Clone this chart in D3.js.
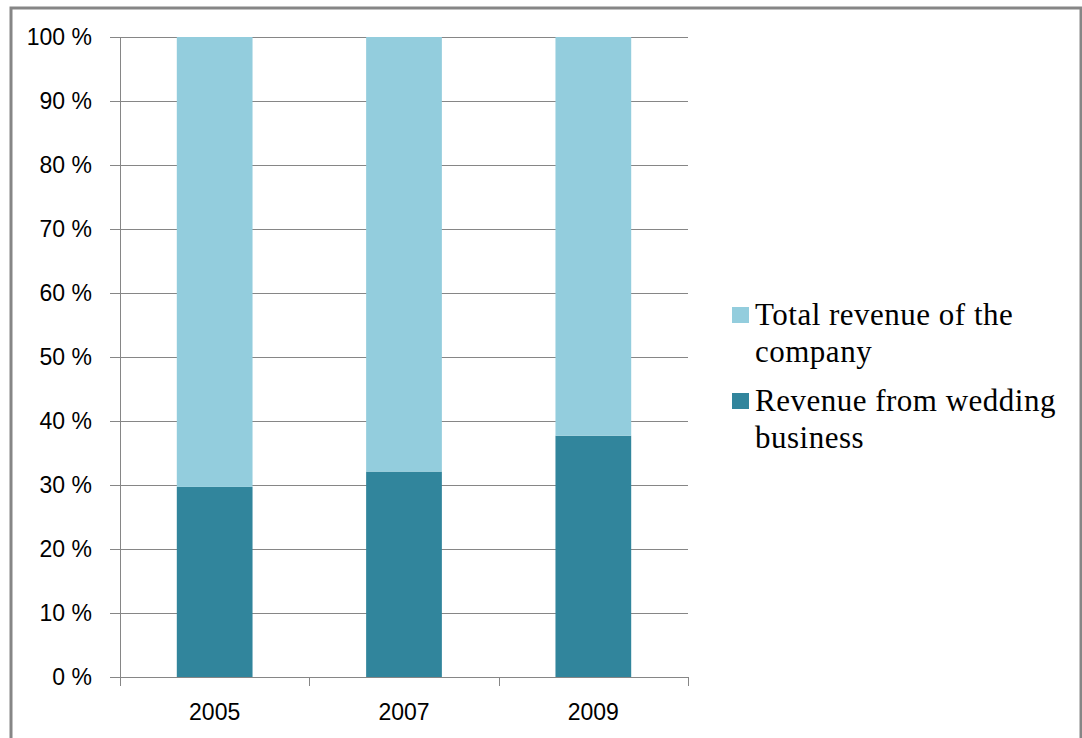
<!DOCTYPE html>
<html>
<head>
<meta charset="utf-8">
<script src="https://cdn.jsdelivr.net/npm/d3@7"></script>
<style>
  body { margin: 0; background: #fff; }
  #chart-container { width: 1082px; height: 738px; }
</style>
</head>
<body>
<div id="chart-container"></div>
<script>
const chartContainer = document.getElementById("chart-container");

const years = ["2005", "2007", "2009"];
const weddingShare = [0.297, 0.321, 0.377];
const otherShare = [0.703, 0.679, 0.623];
const seriesNames = ["Revenue from wedding business", "Total revenue of the company"];
const yTicks = [0, 0.1, 0.2, 0.3, 0.4, 0.5, 0.6, 0.7, 0.8, 0.9, 1];

const colors = { wedding: "#31859c", total: "#93cddd" };

const width = 1082;
const height = 738;
const margin = { top: 37, right: 394, bottom: 61, left: 120 };
const graphWidth = width - margin.left - margin.right;
const graphHeight = height - margin.top - margin.bottom;

const rows = years.map((y, i) => ({ year: y, wedding: weddingShare[i], total: otherShare[i] }));

const svg = d3
  .select(chartContainer)
  .append("svg")
  .attr("width", width)
  .attr("height", height);

// outer frame
svg
  .append("rect")
  .attr("x", 11)
  .attr("y", 8)
  .attr("width", 1070)
  .attr("height", 740)
  .attr("fill", "none")
  .attr("stroke", "#868686")
  .attr("stroke-width", 3);

const graph = svg
  .append("g")
  .attr("transform", `translate(${margin.left}, ${margin.top})`);

const x = d3.scaleBand().domain(years).range([0, graphWidth]).padding(0);
const y = d3.scaleLinear().domain([0, 1]).range([graphHeight, 0]);

// y axis with gridlines
const yAxis = d3
  .axisLeft(y)
  .tickValues(yTicks)
  .tickSize(-graphWidth)
  .tickPadding(28)
  .tickFormat((d) => Math.round(d * 100) + " %");

const gYAxis = graph.append("g").call(yAxis);
gYAxis.select(".domain").remove();
gYAxis.selectAll(".tick line").attr("stroke", "#868686").attr("x1", -10);
gYAxis
  .selectAll("text")
  .style("font-family", "Liberation Sans")
  .style("font-size", "23px")
  .attr("fill", "#000")
  .attr("dy", "0.32em");

graph
  .append("line")
  .attr("x1", 0.5)
  .attr("x2", 0.5)
  .attr("y1", 0)
  .attr("y2", graphHeight)
  .attr("stroke", "#868686");

// stacked bars
const stack = d3.stack().keys(["wedding", "total"]).offset(d3.stackOffsetExpand);
const layers = stack(rows);
const barWidth = x.bandwidth() * 0.4;

graph
  .selectAll("g.layer")
  .data(layers)
  .enter()
  .append("g")
  .attr("class", "layer")
  .attr("fill", (d) => colors[d.key])
  .selectAll("rect")
  .data((d) => d)
  .enter()
  .append("rect")
  .attr("x", (d) => x(d.data.year) + (x.bandwidth() - barWidth) / 2)
  .attr("width", barWidth)
  .attr("y", (d) => y(d[1]))
  .attr("height", (d) => y(d[0]) - y(d[1]));

// x axis
const gXAxis = graph.append("g").attr("transform", `translate(0, ${graphHeight})`);
gXAxis
  .append("line")
  .attr("x1", 0)
  .attr("x2", graphWidth)
  .attr("y1", 0.5)
  .attr("y2", 0.5)
  .attr("stroke", "#868686");
gXAxis
  .selectAll("line.tk")
  .data(years.map((d) => x(d)).concat([graphWidth]))
  .enter()
  .append("line")
  .attr("class", "tk")
  .attr("x1", (d) => Math.round(d) + 0.5)
  .attr("x2", (d) => Math.round(d) + 0.5)
  .attr("y1", 0)
  .attr("y2", 9)
  .attr("stroke", "#868686");
gXAxis
  .selectAll("text")
  .data(years)
  .enter()
  .append("text")
  .attr("x", (d) => x(d) + x.bandwidth() / 2)
  .attr("y", 43)
  .attr("text-anchor", "middle")
  .style("font-family", "Liberation Sans")
  .style("font-size", "23px")
  .attr("fill", "#000")
  .text((d) => d);

// legend
const legendItems = [
  { name: seriesNames[1], lines: ["Total revenue of the", "company"], color: colors.total, top: 307 },
  { name: seriesNames[0], lines: ["Revenue from wedding", "business"], color: colors.wedding, top: 393 },
];

const legend = svg.append("g");
legendItems.forEach((item) => {
  legend
    .append("rect")
    .attr("x", 732)
    .attr("y", item.top)
    .attr("width", 17)
    .attr("height", 16)
    .attr("fill", item.color);
  const t = legend
    .append("text")
    .attr("x", 755)
    .attr("y", item.top + 18)
    .style("font-family", "Liberation Serif")
    .style("font-size", "31px")
    .style("letter-spacing", "0.5px")
    .attr("fill", "#000");
  item.lines.forEach((ln, i) => {
    t.append("tspan").attr("x", 755).attr("dy", i === 0 ? 0 : 37).text(ln);
  });
});
</script>
</body>
</html>
